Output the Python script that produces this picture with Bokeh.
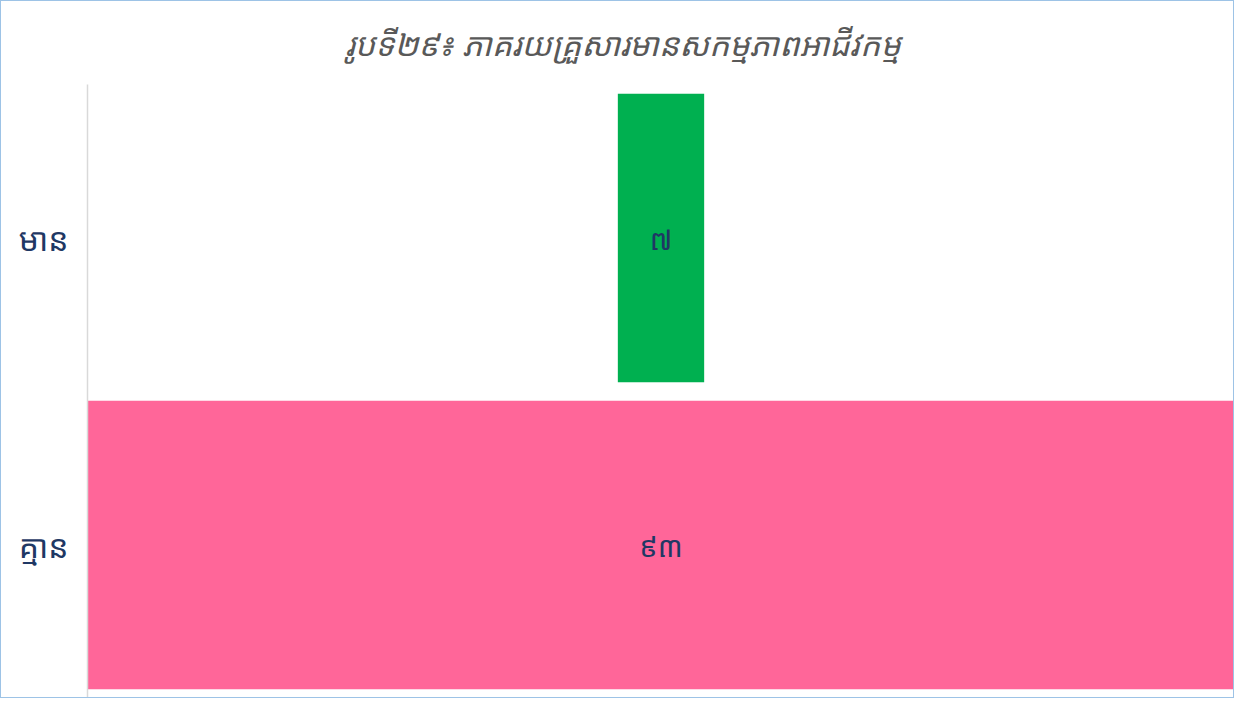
from bokeh.plotting import figure
from bokeh.models import ColumnDataSource, Range1d, FactorRange, LabelSet
from bokeh.core.properties import value
from bokeh.embed import file_html
from bokeh.resources import INLINE

title_text = "រូបទី២៩៖ ភាគរយគ្រួសារមានសកម្មភាពអាជីវកម្ម"
categories = ["មាន", "គ្មាន"]
values = [7, 93]
value_labels = ["៧", "៩៣"]
colors = ["#00B050", "#FF6699"]

KH_FONT = "Noto Sans Khmer, Khmer OS, Noto Sans, DejaVu Sans"
NAVY = "#1F3864"

half = max(values) / 2.0
src = ColumnDataSource(dict(
    cat=categories,
    left=[-v / 2.0 for v in values],
    right=[v / 2.0 for v in values],
    lab=value_labels,
    xc=[0.0 for _ in values],
    color=colors,
))

p = figure(
    width=1234, height=698,
    y_range=FactorRange(*list(reversed(categories)), range_padding=0),
    x_range=Range1d(-half, half),
    output_backend="svg", toolbar_location=None,
    min_border_left=86, min_border_right=1, min_border_top=7, min_border_bottom=1,
)
p.styles = {"border": "1px solid #9DC3E6"}

p.title.text = title_text
p.title.align = "left"
p.title.offset = 258
p.title.vertical_align = "middle"
p.title.standoff = 38
p.title.text_color = "#595959"
p.title.text_font_size = "32px"
p.title.text_font_style = "italic"
p.title.text_font = KH_FONT

p.hbar(y="cat", left="left", right="right", height=0.94, fill_color="color",
       line_color=None, source=src)

labels = LabelSet(x="xc", y="cat", text="lab", source=src,
                  text_align="center", text_baseline="middle",
                  text_color=NAVY, text_font_size="29px",
                  text_font=value(KH_FONT))
p.add_layout(labels)

p.xaxis.visible = False
p.xgrid.visible = False
p.ygrid.visible = False
p.outline_line_color = None

ax = p.yaxis[0]
ax.axis_line_color = "#D9D9D9"
ax.axis_line_width = 1.5
ax.major_tick_line_color = None
ax.minor_tick_line_color = None
ax.major_label_standoff = 13
ax.major_label_text_color = NAVY
ax.major_label_text_font_size = "32px"
ax.major_label_text_font = KH_FONT

open("out.html", "w").write(file_html(p, INLINE))
